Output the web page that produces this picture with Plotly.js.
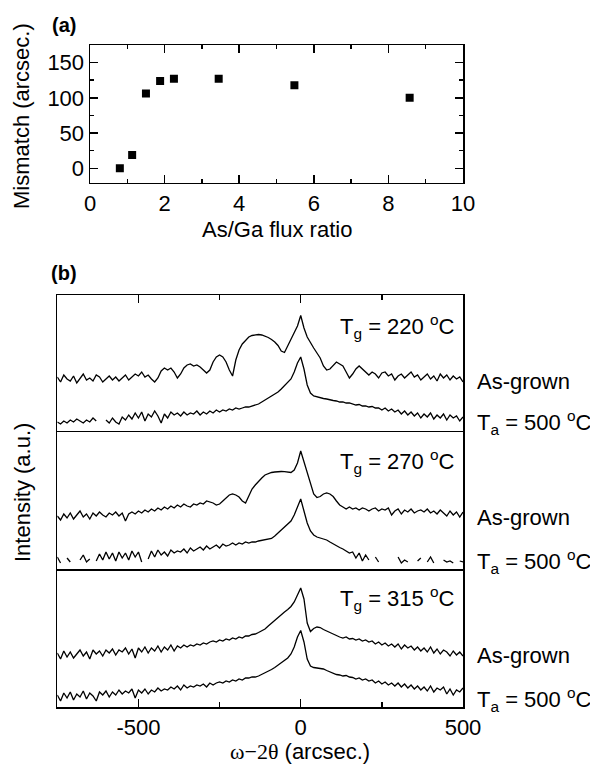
<!DOCTYPE html>
<html><head><meta charset="utf-8">
<script src="https://cdn.plot.ly/plotly-3.0.1.min.js"></script>
<style>html,body{margin:0;padding:0;background:#fff}#chart{width:590px;height:767px}</style>
</head><body><div id="chart"></div>
<script>
// Panel (a)
const fluxRatio = [0.80, 1.13, 1.50, 1.88, 2.25, 3.45, 5.48, 8.57];
const mismatch = [0, 19, 106, 124, 127, 127, 118, 100];

// Panel (b): omega-2theta (arcsec.)
const omega2theta = [-750,-740,-730,-720,-710,-700,-690,-680,-670,-660,
-650,-640,-630,-620,-610,-600,-590,-580,-570,-560,
-550,-540,-530,-520,-510,-500,-490,-480,-470,-460,
-450,-440,-430,-420,-410,-400,-390,-380,-370,-360,
-350,-340,-330,-320,-310,-300,-290,-280,-270,-260,
-250,-240,-230,-220,-210,-200,-190,-180,-170,-160,
-150,-140,-130,-120,-110,-100,-90,-80,-70,-60,
-50,-40,-30,-20,-10,0,10,20,30,40,
50,60,70,80,90,100,110,120,130,140,
150,160,170,180,190,200,210,220,230,240,
250,260,270,280,290,300,310,320,330,340,
350,360,370,380,390,400,410,420,430,440,
450,460,470,480,490,500];
const bTickVals = [-500, 0, 500];
const bTickText = ["-500", "0", "500"];

// Intensity (a.u., offset within each sub-panel)
const tg220AsGrown = [55,50,57,53,51,56,49,54,58,52,
54,51,57,55,50,53,56,52,55,51,
54,57,52,55,58,56,60,55,57,53,
50,54,61,64,62,64,60,54,58,64,
67,68,66,67,65,62,59,62,70,75,
77,75,70,62,56,72,82,88,92,95,
96.5,97,97.5,97,96,94.5,92.5,90,86.5,81,
79.5,86,93,99,106,116.5,104,95,89,84,
79,74,66,62,63,66,70,68,66,60,
54,58,63,66,63,61,57,60,58,54,
59,60,56,58,52,56,58,54,57,60,
55,57,52,55,58,53,56,51,58,54,
57,52,56,53,55,50];
const tg220Annealed = [10,8,11,9,12,10,13,11,9,12,
10,14,11,null,null,12,9,14,10,8,
15,12,17,13,19,14,20,11,18,15,
21,16,9,18,14,20,17,19,16,20,
17,19,18,21,17,20,18,21,19,22,
20,22,21,23,22,24,23,24,25,25,
26,27,28,30,32,34,36,38,40,43,
46,49,53,60,69,75,63,47,39,36,
35,34,33.5,33,32,31.5,31,30,30,29,
29,28,27,27.5,26,26,25,25.5,24,24,
22,24,21,23,20,22,18,21,17,20,
16,19,14,18,15,19,13,17,14,18,
12,17,14,16,11,15];
const tg270AsGrown = [53,49,55,51,56,50,54,58,52,55,
50,56,53,57,54,52,56,54,57,53,
56,48,55,57,55,58,56,59,57,60,
58,61,59,62,60,63,61,64,62,65,
63,62,65,64,66,65,68,67,66,64,
65,68,71,74,75,74,72,68,66,73,
80,84,88,91,94,95.5,96.5,97,97.5,97.5,
97.3,97,96.5,99,106,118,107,95,85,75,
71.5,72.5,75,76,75,72.5,68,64,62,60,
62,60,61,59,61,60,58,60,61,58,
60,59,61,54,58,60,55,59,57,60,
56,58,59,57,60,56,58,55,59,56,
53,58,54,57,52,57];
const tg270Annealed = [12,6,null,11,7,null,null,9,14,7,
10,null,8,15,9,17,10,16,8,17,
11,16,9,18,12,17,7,null,10,18,
12,19,14,17,13,19,16,18,17,20,
16,21,18,20,22,19,23,20,22,24,
21,25,23,24,26,24,26,25,27,26,
27,27,28,28.5,29,29.5,30.5,33,36,39,
41,44,48,54,62,70,58,46,38,34,
32,31,30,29,27,25,23,21.5,20,18,
16,17,11,16,8,14,9,null,12,7,
null,null,null,null,null,12,6,9,7,null,
null,8,11,null,7,12,6,null,null,9,
7,8,6,null,8,7];
const tg315AsGrown = [54,48,56,50,55,49,53,57,51,55,
48,57,53,56,51,57,54,58,52,57,
55,59,53,58,49,59,55,60,54,59,
56,61,55,60,57,62,56,61,59,62,
60,62,61,63,62,64,63,65,66,65,
67,66,68,67,69,68,70,69,71,71,
72.5,73,74.5,76,78,81,84,87,90,92.5,
95,97.5,100.5,105,112,119,108,84,75.5,78.5,
80,79.5,77.5,76,74,72.5,71,70,69,70,
68,68.5,67,68,66,67,65,66,63,65,
62,64,61,63,60,63,58,62,59,61,
57,60,56,59,55,60,54,58,53,57,
55,51,56,52,55,51];
const tg315Annealed = [12,6,14,9,15,7,13,10,16,8,
14,11,6,15,12,16,10,15,12,17,
13,16,14,18,9,17,14,18,13,17,
15,19,16,18,17,20,18,21,17,22,
19,21,20,22,21,23,20,24,22,24,
25,24,26,25,27,26,28,27,29,29,
30,30,31,32.5,34,35.5,37.5,39.5,42,44,
46.5,49,53,60,70,76.5,65,48,41,39.5,
39,38.5,38,36.5,35,33.5,32.5,32,31,31.5,
30,29.5,28,29,27,28,26,27,24,26,
23,25,22,24,21,24,20,23,19,22,
18,21,17,20,16,21,15,19,17,20,
13,18,12,17,15,19];

const panelLabels = ["T<sub>g</sub> = 220 <sup>o</sup>C", "T<sub>g</sub> = 270 <sup>o</sup>C", "T<sub>g</sub> = 315 <sup>o</sup>C"];
const curveLabels = ["As-grown", "T<sub>a</sub> = 500 <sup>o</sup>C"];

const W = 590, H = 767;
const px = v => v / W;
const py = v => 1 - v / H;
const FONT = 'Liberation Sans, Arial, sans-serif';
const lineStyle = {color: 'black', width: 1.3};

const traces = [
  {x: fluxRatio, y: mismatch, type: 'scatter', mode: 'markers',
   marker: {symbol: 'square', size: 8, color: 'black'}, xaxis: 'x', yaxis: 'y'}
];
const bSeries = [
  [tg220AsGrown, 'x2', 'y2'], [tg220Annealed, 'x2', 'y2'],
  [tg270AsGrown, 'x3', 'y3'], [tg270Annealed, 'x3', 'y3'],
  [tg315AsGrown, 'x4', 'y4'], [tg315Annealed, 'x4', 'y4']
];
bSeries.forEach(([ys, xa, ya]) => traces.push({
  x: omega2theta, y: ys, type: 'scatter', mode: 'lines', line: lineStyle,
  connectgaps: false, xaxis: xa, yaxis: ya
}));

const axBase = {showline: true, linecolor: 'black', linewidth: 1.5, showgrid: false, zeroline: false,
  tickcolor: 'black', tickwidth: 1.5, tickfont: {family: FONT, size: 22, color: 'black'}};

const bTop = [295, 432, 569], bBot = [432, 569, 707];
const bx = [px(57.3), px(463)];

const layout = {
  width: W, height: H, margin: {l: 0, r: 0, t: 0, b: 0},
  paper_bgcolor: 'white', plot_bgcolor: 'white', showlegend: false,
  font: {family: FONT, color: 'black'},
  xaxis: Object.assign({}, axBase, {domain: [px(90), px(463)], anchor: 'y', range: [0, 10],
    dtick: 2, ticks: 'inside', ticklen: 8, mirror: 'ticks',
    minor: {dtick: 1, ticks: 'inside', ticklen: 4, tickwidth: 1.5, tickcolor: 'black'}}),
  yaxis: Object.assign({}, axBase, {domain: [py(182.7), py(45)], anchor: 'x', range: [-20.5, 175],
    tickvals: [0, 50, 100, 150], ticks: 'inside', ticklen: 8, mirror: 'ticks',
    minor: {tickvals: [25, 75, 125], ticks: 'inside', ticklen: 4, tickwidth: 1.5, tickcolor: 'black'}}),
  annotations: []
};
for (let k = 0; k < 3; k++) {
  const n = k + 2;
  const xa = Object.assign({}, axBase, {domain: bx, anchor: 'y' + n, range: [-750, 500], mirror: true,
    dtick: 500, showticklabels: false, ticks: ''});
  if (k === 0) {
    Object.assign(xa, {side: 'top', mirror: false, ticks: 'inside', ticklen: 8,
      minor: {dtick: 250, ticks: 'inside', ticklen: 5, tickwidth: 1.5, tickcolor: 'black'}});
  }
  if (k === 2) {
    Object.assign(xa, {side: 'bottom', mirror: false, ticks: 'inside', ticklen: 8, showticklabels: true,
      tickvals: bTickVals, ticktext: bTickText,
      minor: {tickvals: [-250, 250], ticks: 'inside', ticklen: 5, tickwidth: 1.5, tickcolor: 'black'}});
  }
  layout['xaxis' + n] = xa;
  layout['yaxis' + n] = Object.assign({}, axBase, {domain: [py(bBot[k]), py(bTop[k])], anchor: 'x' + n,
    range: [0, bBot[k] - bTop[k]], mirror: true, showticklabels: false, ticks: ''});
}

const ann = (text, x, y, opts) => layout.annotations.push(Object.assign({
  text, x: px(x), y: py(y), xref: 'paper', yref: 'paper', showarrow: false,
  xanchor: 'left', yanchor: 'middle', font: {family: FONT, size: 22, color: 'black'}}, opts || {}));

ann('<b>(a)</b>', 50, 25, {font: {family: FONT, size: 20, color: 'black'}});
ann('<b>(b)</b>', 49, 273, {font: {family: FONT, size: 20, color: 'black'}});
ann('Mismatch (arcsec.)', 22, 116, {xanchor: 'center', textangle: -90});
ann('As/Ga flux ratio', 276.5, 230, {xanchor: 'center'});
ann('Intensity (a.u.)', 22, 493, {xanchor: 'center', textangle: -90});
ann('<span style="font-family:\'Liberation Serif\',\'Times New Roman\',serif">\u03c9\u22122\u03b8</span> (arcsec.)', 300, 751, {xanchor: 'center'});

const tgY = [326, 461, 598];
const agY = [381, 517, 655];
const taY = [422, 561, 699];
for (let k = 0; k < 3; k++) {
  ann(panelLabels[k], 338, tgY[k]);
  ann(curveLabels[0], 475, agY[k]);
  ann(curveLabels[1], 475, taY[k]);
}

Plotly.newPlot('chart', traces, layout, {staticPlot: true, displayModeBar: false});
</script>
</body></html>
